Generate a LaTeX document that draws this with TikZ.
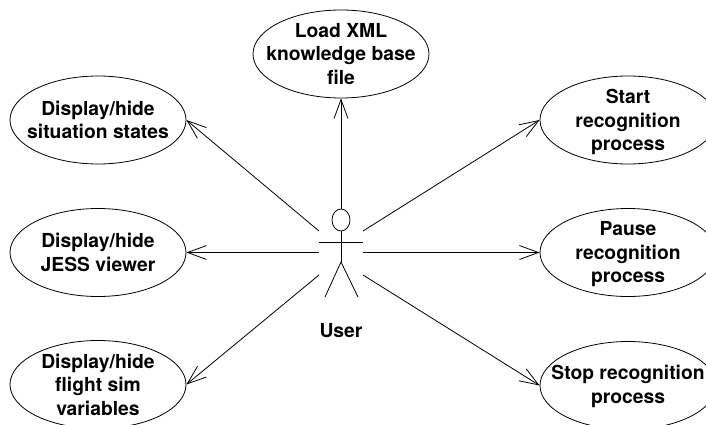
\documentclass[tikz,border=0pt]{standalone}
\usepackage{fontspec}
\setmainfont{TeX Gyre Heros}
\usetikzlibrary{arrows.meta,shapes.geometric}
\tikzset{
	usecase/.style={draw, ellipse, line width=0.8pt, minimum width=176pt, minimum height=88pt, inner sep=0pt},
	casetext/.style={align=center, inner sep=0pt, font=\fontsize{19.3}{23.5}\selectfont\bfseries},
	link/.style={line width=0.8pt, -{Straight Barb[length=19pt,width=14pt,line width=0.8pt]}},
	limb/.style={line width=0.8pt}
}

\begin{document}
\begin{tikzpicture}[x=1pt, y=-1pt]
	\clip (0, 0) rectangle (706, 425);
	
	%%%%% use cases %%%%%
	\node[usecase, label={[casetext]center:Load XML\\knowledge base\\file}] (load) at (341, 54) {};
	\node[usecase, label={[casetext]center:Display/hide\\situation states}] (situation) at (98, 120) {};
	\node[usecase, label={[casetext]center:Display/hide\\JESS viewer}] (jess) at (98, 252.5) {};
	\node[usecase, label={[casetext]center:Display/hide\\flight sim\\variables}] (flight) at (98, 384.5) {};
	\node[usecase, label={[casetext, yshift=-2pt]center:Start\\recognition\\process}] (start) at (628, 120) {};
	\node[usecase, label={[casetext, yshift=-2pt]center:Pause\\recognition\\process}] (pause) at (628, 252.5) {};
	\node[usecase, label={[casetext, yshift=-1pt]center:Stop recognition\\process}] (stop) at (628, 385.5) {};
	
	%%%%% actor %%%%%
	\node[draw, ellipse, limb, minimum width=18pt, minimum height=22pt, inner sep=0pt] (head) at (341, 220) {};
	\coordinate (armL) at (319, 242);
	\coordinate (armR) at (363, 242);
	\coordinate (hip) at (341, 262);
	\coordinate (footL) at (325, 297);
	\coordinate (footR) at (358, 297);
	\draw[limb] (head.south) -- (hip);
	\draw[limb] (armL) -- (armR);
	\draw[limb] (footL) -- (hip) -- (footR);
	\node[casetext] (user) at (341, 331) {User};
	
	%%%%% links %%%%%
	\coordinate (upL) at (319, 231);
	\coordinate (midL) at (319, 252.5);
	\coordinate (lowL) at (319, 275);
	\coordinate (upR) at (363, 231);
	\coordinate (midR) at (363, 252.5);
	\coordinate (lowR) at (363, 275);
	
	\draw[link] (head.north) -- (load.south);
	\draw[link] (upL) -- (situation.east);
	\draw[link] (midL) -- (jess.east);
	\draw[link] (lowL) -- (flight.east);
	\draw[link] (upR) -- (start.west);
	\draw[link] (midR) -- (pause.west);
	\draw[link] (lowR) -- (stop.west);
\end{tikzpicture}
\end{document}
